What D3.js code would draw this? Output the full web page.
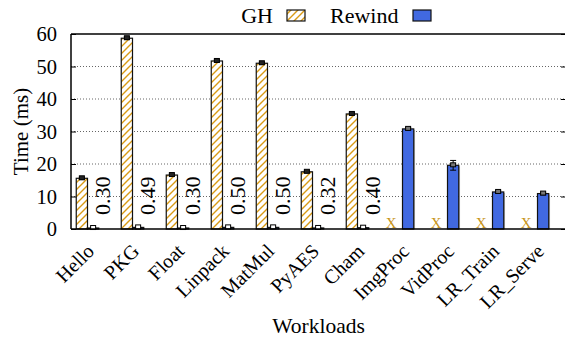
<!DOCTYPE html>
<html><head><meta charset="utf-8">
<script src="https://cdn.jsdelivr.net/npm/d3@7"></script>
<style>body{margin:0;background:#fff}svg{display:block}</style>
</head><body><div id="chart"></div>
<script>
const categories = ["Hello","PKG","Float","Linpack","MatMul","PyAES","Cham","ImgProc","VidProc","LR_Train","LR_Serve"];
const ghValues = [15.6, 58.7, 16.6, 51.7, 51.0, 17.6, 35.4, null, null, null, null];
const ghErrors = [0.3, 0.4, 0.3, 0.3, 0.3, 0.3, 0.3, null, null, null, null];
const rewindValues = [0.30, 0.49, 0.30, 0.50, 0.50, 0.32, 0.40, 30.8, 19.6, 11.4, 10.9];
const rewindErrors = [0.05, 0.05, 0.05, 0.05, 0.05, 0.05, 0.05, 0.4, 1.5, 0.4, 0.4];
const rewindLabels = ["0.30","0.49","0.30","0.50","0.50","0.32","0.40",null,null,null,null];
const yTicks = [0,10,20,30,40,50,60];
const seriesNames = ["GH","Rewind"];

const FONT = "'Liberation Serif', 'Times New Roman', serif";
const W = 565, H = 339;
const plot = {left: 71, right: 566, top: 34, bottom: 229};
const svg = d3.select("#chart").append("svg").attr("width", W).attr("height", H);

const defs = svg.append("defs");
const pat = defs.append("pattern").attr("id","hatch").attr("patternUnits","userSpaceOnUse")
  .attr("width",7).attr("height",7);
pat.append("rect").attr("width",7).attr("height",7).attr("fill","#fff");
pat.append("path").attr("d","M-1,8 L8,-1 M-1,1 L1,-1 M6,8 L8,6").attr("stroke","#d99a14").attr("stroke-width",1.4);

const x = d3.scaleBand().domain(categories).range([65, 560]).padding(0);
const barW = 11.25;
const y = d3.scaleLinear().domain([0,60]).range([plot.bottom, plot.top]);

// grid
svg.append("g").selectAll("line").data(yTicks.filter(t => t > 0 && t < 60)).join("line")
  .attr("x1", plot.left).attr("x2", plot.right).attr("y1", d => y(d)).attr("y2", d => y(d))
  .attr("stroke","#666").attr("stroke-width",1).attr("stroke-dasharray","1,2");

// y axis
const yAxis = d3.axisLeft(y).tickValues(yTicks).tickSize(-5).tickPadding(14);
const gy = svg.append("g").attr("transform",`translate(${plot.left},0)`).call(yAxis);
gy.select(".domain").remove();
gy.attr("font-family", null).attr("font-size", null);
gy.selectAll(".tick line").attr("stroke","#000");
gy.selectAll(".tick text").style("font-size","20.5px").style("font-family",FONT).attr("fill","#000");
const yAxisR = d3.axisRight(y).tickValues(yTicks).tickSize(-5).tickFormat("");
const gyr = svg.append("g").attr("transform",`translate(${plot.right},0)`).call(yAxisR);
gyr.select(".domain").remove();
gyr.selectAll(".tick line").attr("stroke","#000");

// frame
svg.append("line").attr("x1",plot.left).attr("x2",plot.right).attr("y1",plot.top).attr("y2",plot.top).attr("stroke","#000").attr("stroke-width",1.5);
svg.append("line").attr("x1",plot.left).attr("x2",plot.left).attr("y1",plot.top).attr("y2",plot.bottom).attr("stroke","#000").attr("stroke-width",1.5);

const cx = c => x(c) + x.bandwidth()/2;

// GH bars
const ghData = categories.map((c,i) => ({c, v: ghValues[i], e: ghErrors[i]}));
svg.append("g").selectAll("rect").data(ghData.filter(d => d.v !== null)).join("rect")
  .attr("x", d => cx(d.c) - barW).attr("width", barW)
  .attr("y", d => y(d.v)).attr("height", d => y(0) - y(d.v))
  .attr("fill","url(#hatch)").attr("stroke","#111").attr("stroke-width",1.2);

// X markers for missing GH
svg.append("g").selectAll("text").data(ghData.filter(d => d.v === null)).join("text")
  .attr("x", d => cx(d.c) - barW).attr("y", y(0) - 1)
  .attr("text-anchor","middle").style("font-family",FONT).style("font-size","15px").attr("fill","#c8951a").text("X");

// Rewind bars
const rwData = categories.map((c,i) => ({c, v: rewindValues[i], e: rewindErrors[i], l: rewindLabels[i]}));
svg.append("g").selectAll("line").data(rwData).join("line")
  .attr("x1", d => cx(d.c) + barW + 0.8).attr("x2", d => cx(d.c) + barW + 0.8)
  .attr("y1", d => y(d.v) + 1).attr("y2", y(0))
  .attr("stroke","#bbb").attr("stroke-width",1);
svg.append("g").selectAll("rect").data(rwData).join("rect")
  .attr("x", d => cx(d.c)).attr("width", barW)
  .attr("y", d => y(d.v)).attr("height", d => y(0) - y(d.v))
  .attr("fill","#4169e1").attr("stroke","#111").attr("stroke-width",1.2);

// error bars
function errBars(data, off, mfill) {
  const g = svg.append("g");
  const dd = data.filter(d => d.v !== null);
  g.selectAll(".v").data(dd).join("line")
    .attr("x1", d => cx(d.c) + off).attr("x2", d => cx(d.c) + off)
    .attr("y1", d => y(d.v + d.e)).attr("y2", d => y(Math.max(0, d.v - d.e)))
    .attr("stroke","#000").attr("stroke-width",1);
  ["t","b"].forEach(k => {
    g.selectAll(".c"+k).data(dd).join("line")
      .attr("x1", d => cx(d.c) + off - 3).attr("x2", d => cx(d.c) + off + 3)
      .attr("y1", d => y(k === "t" ? d.v + d.e : Math.max(0, d.v - d.e)))
      .attr("y2", d => y(k === "t" ? d.v + d.e : Math.max(0, d.v - d.e)))
      .attr("stroke","#000").attr("stroke-width",1);
  });
  g.selectAll(".m").data(dd).join("rect")
    .attr("x", d => cx(d.c) + off - 2.5).attr("y", d => y(d.v) - 2.5)
    .attr("width",5).attr("height",4)
    .attr("fill", d => mfill(d)).attr("stroke","#000").attr("stroke-width",1);
}
errBars(ghData, -barW/2, () => "#222");
errBars(rwData, barW/2, d => d.v < 5 ? "#fff" : "#777");

// value labels
svg.append("g").selectAll("text").data(rwData.filter(d => d.l)).join("text")
  .attr("transform", d => `translate(${cx(d.c) + 22.5},${y(0) - 14}) rotate(-90)`)
  .style("font-family",FONT).style("font-size","22px").attr("text-anchor","start").text(d => d.l);

// x axis
svg.append("line").attr("x1",plot.left).attr("x2",plot.right).attr("y1",plot.bottom).attr("y2",plot.bottom).attr("stroke","#000").attr("stroke-width",1.5);
svg.append("g").selectAll("text").data(categories).join("text")
  .attr("transform", c => `translate(${cx(c) - 2},${plot.bottom + 13.5}) rotate(-45)`)
  .attr("text-anchor","end").attr("dy","0.7em").style("font-family",FONT).style("font-size","20px").text(c => c);

// axis titles
svg.append("text").attr("transform",`translate(27.5,${(plot.top + plot.bottom)/2}) rotate(-90)`).attr("text-anchor","middle")
  .style("font-family",FONT).style("font-size","21px").text("Time (ms)");
svg.append("text").attr("x",(plot.left + plot.right)/2).attr("y",333).attr("text-anchor","middle").style("font-family",FONT).style("font-size","21.5px").text("Workloads");

// legend
const leg = svg.append("g");
leg.append("text").attr("x",273).attr("y",23).attr("text-anchor","end").style("font-family",FONT).style("font-size","22px").text(seriesNames[0]);
leg.append("rect").attr("x",287).attr("y",10).attr("width",18).attr("height",11).attr("fill","url(#hatch)").attr("stroke","#111").attr("stroke-width",1.2);
leg.append("text").attr("x",330).attr("y",23).attr("text-anchor","start").style("font-family",FONT).style("font-size","22px").text(seriesNames[1]);
leg.append("rect").attr("x",413).attr("y",10).attr("width",18).attr("height",11).attr("fill","#4169e1").attr("stroke","#111").attr("stroke-width",1.2);
</script></body></html>
